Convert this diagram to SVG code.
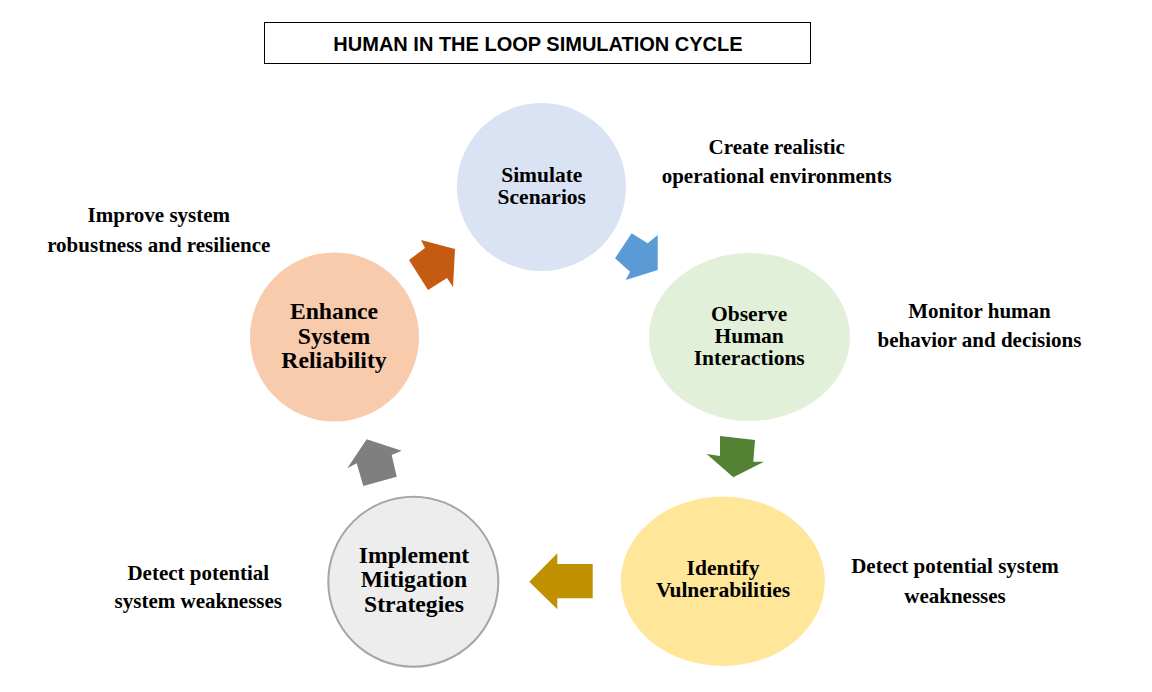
<svg xmlns="http://www.w3.org/2000/svg" width="1152" height="692" viewBox="0 0 1152 692">
<style>
.node{font-family:"Liberation Serif","Times New Roman",serif;font-weight:bold;font-size:21.5px;fill:#000;text-anchor:middle}
.big{font-size:23.7px}
.desc{font-family:"Liberation Serif","Times New Roman",serif;font-weight:bold;font-size:21px;fill:#000;text-anchor:middle}
.title{font-family:"Liberation Sans",Arial,sans-serif;font-weight:bold;font-size:20px;fill:#000;text-anchor:middle}
</style>
<rect width="1152" height="692" fill="#fff"/>
<g id="title">
<rect x="264.5" y="22.5" width="546" height="41" fill="#fff" stroke="#000" stroke-width="1"/>
<text class="title" x="538" y="51">HUMAN IN THE LOOP SIMULATION CYCLE</text>
</g>
<g id="connectors">
<polygon fill="#5B9BD5" points="631.7,233.3 647.7,243.3 657.7,235 657.7,270 625.7,280 630,271.7 615,258.3"/>
<polygon fill="#548235" points="720,436 755,440 753.3,461.7 764,461.7 733.3,477.3 706.7,454 720,456"/>
<polygon fill="#BF9000" points="529.3,581.7 557.3,553.3 557.3,564 592.7,564 592.7,598.3 557.3,598.3 557.3,609.3"/>
<polygon fill="#7F7F7F" points="347.3,468.3 366.7,439.3 401.7,450.7 391.7,455 396.7,476.7 363.3,486 356.7,463.3"/>
<polygon fill="#C55A11" points="409,260 425,248 421,240 455,249 453,287 447,278 428,290"/>
</g>
<g id="simulate">
<ellipse cx="541.5" cy="187" rx="84.5" ry="84" fill="#DAE3F3"/>
<text class="node" x="541.8" y="181.5">Simulate</text>
<text class="node" x="541.8" y="204">Scenarios</text>
</g>
<g id="observe">
<ellipse cx="749.5" cy="337" rx="100.5" ry="84" fill="#E2F0D9"/>
<text class="node" x="749.2" y="320.5">Observe</text>
<text class="node" x="749.2" y="342.5">Human</text>
<text class="node" x="749.2" y="364.5">Interactions</text>
</g>
<g id="identify">
<ellipse cx="722.8" cy="581.3" rx="102" ry="84.7" fill="#FFE699"/>
<text class="node" x="723" y="575.3">Identify</text>
<text class="node" x="723" y="597">Vulnerabilities</text>
</g>
<g id="implement">
<ellipse cx="413.3" cy="581.7" rx="85" ry="85" fill="#EDEDED" stroke="#A5A5A5" stroke-width="2"/>
<text class="node big" x="414" y="563.3">Implement</text>
<text class="node big" x="414" y="587.3">Mitigation</text>
<text class="node big" x="414" y="611.7">Strategies</text>
</g>
<g id="enhance">
<ellipse cx="334.5" cy="337" rx="84.5" ry="84.5" fill="#F8CBAD"/>
<text class="node big" x="334" y="319">Enhance</text>
<text class="node big" x="334" y="344">System</text>
<text class="node big" x="334" y="368.3">Reliability</text>
</g>
<g id="descriptions">
<text class="desc" x="776.7" y="154">Create realistic</text>
<text class="desc" x="776.7" y="183.3">operational environments</text>
<text class="desc" x="979.5" y="317.7">Monitor human</text>
<text class="desc" x="979.5" y="346.7">behavior and decisions</text>
<text class="desc" x="955" y="573">Detect potential system</text>
<text class="desc" x="955" y="603">weaknesses</text>
<text class="desc" x="198.3" y="580">Detect potential</text>
<text class="desc" x="198.3" y="608.3">system weaknesses</text>
<text class="desc" x="158.8" y="221.7">Improve system</text>
<text class="desc" x="158.8" y="251.7">robustness and resilience</text>
</g>
</svg>
